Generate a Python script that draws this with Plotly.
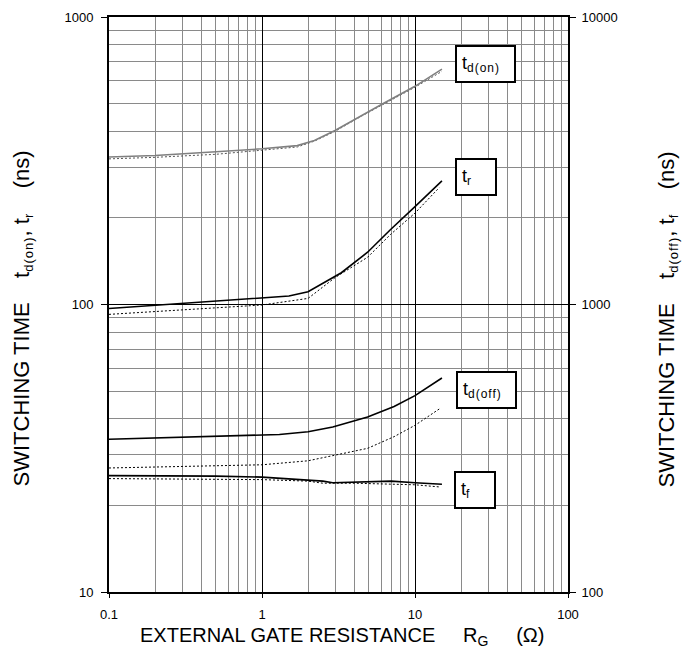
import math
import plotly.graph_objects as go

# ---- data ----
td_on_x = [0.1, 0.2, 0.5, 1, 1.7, 2.2, 3, 4.4, 6.2, 10, 15]
td_on_solid = [326, 330, 340, 348, 357, 372, 403, 453, 500, 574, 659]
td_on_dot = [321, 325, 333, 344, 353, 370, 400, 450, 497, 570, 647]

tr_x = [0.1, 0.2, 0.5, 1, 1.5, 2, 3.3, 4.9, 6.9, 10, 15]
tr_solid = [96.9, 99.3, 102.5, 105, 107, 110.7, 129, 152, 182, 219, 269]
tr_dot_x = [0.1, 0.2, 0.5, 1, 2, 3, 4.9, 6.9, 10, 14.4]
tr_dot = [92.4, 94.4, 97.4, 99.6, 105, 124, 146, 175, 208, 255]

td_off_x = [0.1, 0.2, 0.5, 1, 1.3, 2, 2.9, 4.9, 7.3, 10, 15]
td_off_solid = [340, 343, 348, 352, 353, 361, 375, 406, 442, 482, 555]
td_off_dot_x = [0.1, 0.2, 0.5, 1, 2, 2.9, 4.9, 7.3, 10, 14.4]
td_off_dot = [270, 272, 275, 277, 286, 298, 316, 347, 380, 433]

tf_x = [0.1, 0.5, 1, 2, 2.5, 2.9, 4.9, 7, 10, 15]
tf_solid = [254, 253, 251, 246, 243, 240, 242, 243, 240, 237]
tf_dot_x = [0.1, 0.5, 1, 2, 2.5, 4, 10, 14.4]
tf_dot = [248, 247, 246, 243, 239, 239, 236, 232]

x_ticks = [0.1, 1, 10, 100]
x_ticklabels = ["0.1", "1", "10", "100"]
y_ticks = [10, 100, 1000]
y2_ticks = [100, 1000, 10000]

FONT = "Liberation Sans, Arial, sans-serif"
GRAY = "#8a8a8a"

def minor_vals(decades):
    return [m * d for d in decades for m in range(2, 10)]

fig = go.Figure()

def add(x, y, color, width, dash, axis="y"):
    fig.add_trace(go.Scatter(x=x, y=y, mode="lines", yaxis=axis,
                             line=dict(color=color, width=width, dash=dash),
                             showlegend=False, hoverinfo="skip"))

add(td_on_x, td_on_dot, "#555555", 1, "2px,2px")
add(td_on_x, td_on_solid, "#808080", 1.6, "solid")
add(tr_dot_x, tr_dot, "black", 1, "2px,2px")
add(tr_x, tr_solid, "black", 1.6, "solid")
add(td_off_dot_x, td_off_dot, "black", 1, "2px,2px", "y2")
add(td_off_x, td_off_solid, "black", 1.6, "solid", "y2")
add(tf_dot_x, tf_dot, "black", 1, "2px,2px", "y2")
add(tf_x, tf_solid, "black", 1.6, "solid", "y2")

sp = "\u00a0"
fig.update_layout(
    width=688, height=658,
    margin=dict(l=109, r=120, t=10, b=66),
    paper_bgcolor="white", plot_bgcolor="white",
    font=dict(family=FONT, color="black", size=13),
    xaxis=dict(
        type="log", range=[-1, 2],
        tickmode="array", tickvals=x_ticks, ticktext=x_ticklabels,
        showgrid=True, gridcolor="black", gridwidth=1,
        ticks="outside", ticklen=4, tickcolor="black",
        showline=True, linecolor="black", linewidth=2, mirror=True,
        zeroline=False, ticklabelstandoff=5,
        minor=dict(tickmode="array", tickvals=minor_vals([0.1, 1, 10]),
                   showgrid=True, gridcolor=GRAY, gridwidth=1, ticks=""),
        tickfont=dict(size=13),
    ),
    yaxis=dict(
        type="log", range=[1, 3],
        tickmode="array", tickvals=y_ticks, ticktext=[str(v) for v in y_ticks],
        showgrid=True, gridcolor="black", gridwidth=1,
        ticks="outside", ticklen=6, tickcolor="black",
        showline=True, linecolor="black", linewidth=2, mirror=False,
        zeroline=False, ticklabelstandoff=5,
        minor=dict(tickmode="array", tickvals=minor_vals([10, 100]),
                   showgrid=True, gridcolor=GRAY, gridwidth=1, ticks=""),
        tickfont=dict(size=13),
    ),
    yaxis2=dict(
        type="log", range=[2, 4], overlaying="y", side="right",
        tickmode="array", tickvals=y2_ticks, ticktext=[str(v) for v in y2_ticks],
        showgrid=False,
        ticks="outside", ticklen=6, tickcolor="black",
        showline=True, linecolor="black", linewidth=2,
        zeroline=False, ticklabelstandoff=3,
        tickfont=dict(size=13),
    ),
)

def subs(s, size=12):
    return ('<sub><span style="font-size:%dpx;letter-spacing:1px">' % size + s + '</span></sub>')

# axis titles (placed relative to the plot area)
fig.add_annotation(xref="paper", yref="paper", x=0.507, y=-0.077,
                   text="EXTERNAL GATE RESISTANCE" + sp * 5 + "R<sub>G</sub>" + sp * 5 + "(Ω)",
                   showarrow=False, xanchor="center", yanchor="middle",
                   font=dict(size=20, family=FONT))
fig.add_annotation(xref="paper", yref="paper", x=-0.187, y=0.476, textangle=-90,
                   text="SWITCHING TIME" + sp * 4 + "t" + subs("d(on)", 13) + ", t" + subs("r", 13) + sp * 4 + "(ns)",
                   showarrow=False, xanchor="center", yanchor="middle",
                   font=dict(size=22, family=FONT))
fig.add_annotation(xref="paper", yref="paper", x=1.218, y=0.474, textangle=-90,
                   text="SWITCHING TIME" + sp * 4 + "t" + subs("d(off)", 13) + ", t" + subs("f", 13) + sp * 4 + "(ns)",
                   showarrow=False, xanchor="center", yanchor="middle",
                   font=dict(size=22, family=FONT))

def label(text, x, y, w, yref="y"):
    # annotation positions on log axes are given in log10 units
    fig.add_annotation(x=math.log10(x), y=math.log10(y), xref="x", yref=yref,
                       text=text, showarrow=False,
                       xanchor="left", yanchor="middle", align="left",
                       width=w, height=34, bgcolor="white",
                       bordercolor="black", borderwidth=2, borderpad=0,
                       font=dict(size=18, family=FONT))

label(sp + "t" + subs("d(on)"), 18.2, 684, 57)
label(sp + "t" + subs("r"), 18.2, 277, 38)
label(sp + "t" + subs("d(off)"), 18.5, 506, 57, "y2")
label(sp + "t" + subs("f"), 18.0, 227, 38, "y2")

fig.write_html("out.html", config={"displayModeBar": False},
               post_script="document.body.style.margin='0';")
